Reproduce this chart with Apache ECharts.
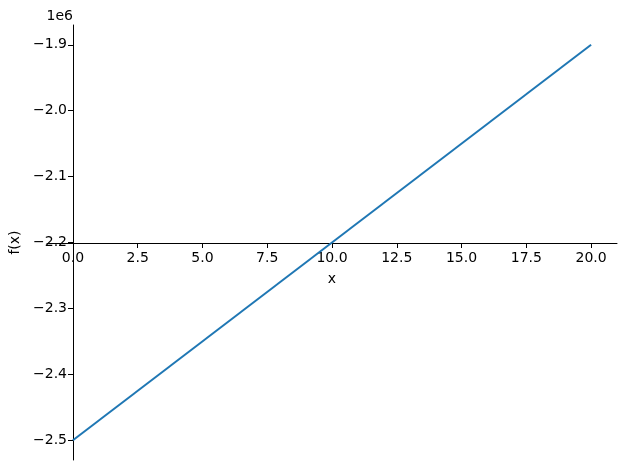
<!DOCTYPE html>
<html>
<head>
<meta charset="utf-8">
<script src="https://cdn.jsdelivr.net/npm/echarts@6/dist/echarts.min.js"></script>
<style>html,body{margin:0;padding:0;background:#fff}#c{width:626px;height:470px}</style>
</head>
<body>
<div id="c"></div>
<script>
// f(x) = 30000*x - 2500000, sampled at the plot ends
const xs = [0, 20];
const ys = [-2500000, -1900000];
const xTicks = [0, 2.5, 5, 7.5, 10, 12.5, 15, 17.5, 20];
const yTicks = [-2500000, -2400000, -2300000, -2200000, -2100000, -2000000, -1900000];
const yScaleText = '1e6';
const xLabel = 'x';
const yLabel = 'f(x)';

const FONT = 'DejaVu Sans';
const chart = echarts.init(document.getElementById('c'), null, {renderer: 'canvas'});
const fmtY = v => (v / 1e6).toFixed(1).replace('-', '\u2212');
chart.setOption({
  animation: false,
  backgroundColor: '#fff',
  grid: {left: 47, right: 9, top: 25, bottom: 10},
  xAxis: {
    type: 'value', min: -1, max: 21,
    offset: -217,
    axisLine: {onZero: false, lineStyle: {color: '#000', width: 1}},
    axisTick: {show: true, length: 5, customValues: xTicks, lineStyle: {color: '#000'}},
    axisLabel: {customValues: xTicks, formatter: v => v.toFixed(1), color: '#000', fontFamily: FONT, fontSize: 14, margin: 8},
    splitLine: {show: false},
    name: xLabel, nameLocation: 'middle', nameGap: 29,
    nameTextStyle: {color: '#000', fontFamily: FONT, fontSize: 14}
  },
  yAxis: {
    type: 'value', min: -2530000, max: -1870000,
    offset: -26,
    axisLine: {onZero: false, lineStyle: {color: '#000', width: 1}},
    axisTick: {show: true, length: 5, customValues: yTicks, lineStyle: {color: '#000'}},
    axisLabel: {customValues: yTicks, formatter: fmtY, color: '#000', fontFamily: FONT, fontSize: 14, margin: 6},
    splitLine: {show: false},
    name: yLabel, nameLocation: 'middle', nameGap: 46, nameRotate: 90,
    nameTextStyle: {color: '#000', fontFamily: FONT, fontSize: 14}
  },
  graphic: [{
    type: 'text', right: 626 - 73, top: 9,
    style: {text: yScaleText, fill: '#000', font: '14px "DejaVu Sans"', textAlign: 'right'}
  }],
  series: [{
    type: 'line',
    data: xs.map((x, i) => [x, ys[i]]),
    showSymbol: false,
    lineStyle: {color: '#1f77b4', width: 2},
    clip: false
  }]
});
</script>
</body>
</html>
